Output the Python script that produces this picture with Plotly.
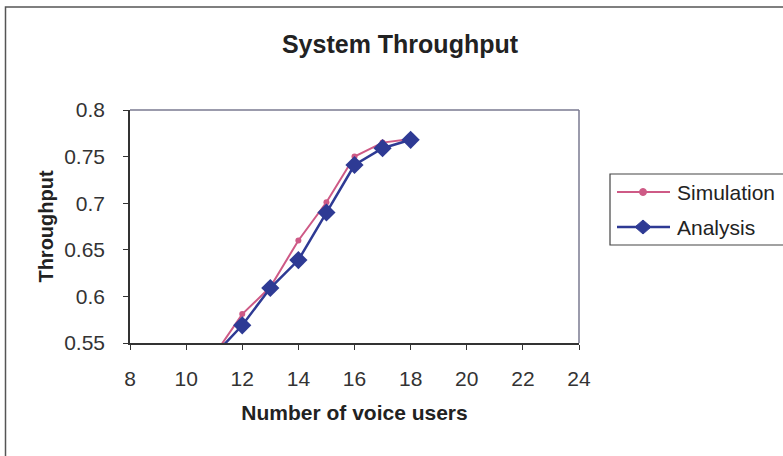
import plotly.graph_objects as go

# Number of voice users on the x axis
users = [11, 12, 13, 14, 15, 16, 17, 18]
# Throughput series
simulation = [0.537, 0.581, 0.610, 0.660, 0.701, 0.750, 0.765, 0.769]
analysis = [0.537, 0.569, 0.609, 0.639, 0.690, 0.741, 0.759, 0.768]
series_names = ["Simulation", "Analysis"]

x_ticks = [8, 10, 12, 14, 16, 18, 20, 22, 24]
y_ticks = [0.55, 0.6, 0.65, 0.7, 0.75, 0.8]
y_tick_text = ["0.55", "0.6", "0.65", "0.7", "0.75", "0.8"]

W, H = 783, 456
L, R, T, B = 130, 204, 110, 113
pw, ph = W - L - R, H - T - B


def px_x(p):
    return (p - L) / pw


def px_y(p):
    return (H - B - p) / ph


FONT = "Liberation Sans, Arial, sans-serif"
SIM_COLOR = "#CE5A86"
ANA_COLOR = "#2E3A94"
TEXT = "#222222"

fig = go.Figure()
fig.add_trace(go.Scatter(
    x=users, y=simulation, name=series_names[0], mode="lines+markers",
    line=dict(color=SIM_COLOR, width=2),
    marker=dict(symbol="circle", size=6, color=SIM_COLOR),
    showlegend=False,
))
fig.add_trace(go.Scatter(
    x=users, y=analysis, name=series_names[1], mode="lines+markers",
    line=dict(color=ANA_COLOR, width=2.5),
    marker=dict(symbol="diamond", size=14, color=ANA_COLOR),
    showlegend=False,
))

# Legend box drawn by hand so the sample lines get Excel-like length
leg_left, leg_top, leg_bottom = 610, 174, 245
leg_rows = [192, 227]
leg_styles = [
    dict(color=SIM_COLOR, width=2, marker="circle"),
    dict(color=ANA_COLOR, width=2.5, marker="diamond"),
]
shapes = [
    # plot area frame (top and right)
    dict(type="line", xref="paper", yref="paper", x0=0, x1=1, y0=1, y1=1,
         line=dict(color="#7A7A90", width=1.5)),
    dict(type="line", xref="paper", yref="paper", x0=1, x1=1, y0=0, y1=1,
         line=dict(color="#7A7A90", width=1.5)),
    # outer chart border
    dict(type="rect", xref="paper", yref="paper",
         x0=px_x(5.5), x1=px_x(800), y0=px_y(7), y1=px_y(470),
         line=dict(color="#555555", width=1.5), layer="below"),
    # legend frame
    dict(type="rect", xref="paper", yref="paper",
         x0=px_x(leg_left), x1=px_x(800), y0=px_y(leg_top), y1=px_y(leg_bottom),
         line=dict(color="#444444", width=1.2), fillcolor="white", layer="below"),
]
annotations = []
for name, row, st in zip(series_names, leg_rows, leg_styles):
    shapes.append(dict(type="line", xref="paper", yref="paper",
                       x0=px_x(617), x1=px_x(670), y0=px_y(row), y1=px_y(row),
                       line=dict(color=st["color"], width=st["width"])))
    if st["marker"] == "circle":
        shapes.append(dict(type="circle", xref="paper", yref="paper",
                           xsizemode="pixel", ysizemode="pixel",
                           xanchor=px_x(643), yanchor=px_y(row),
                           x0=-3.5, x1=3.5, y0=-3.5, y1=3.5,
                           line=dict(color=st["color"], width=1),
                           fillcolor=st["color"]))
    else:
        shapes.append(dict(type="path", xref="paper", yref="paper",
                           xsizemode="pixel", ysizemode="pixel",
                           xanchor=px_x(643), yanchor=px_y(row),
                           path="M-8,0 L0,7 L8,0 L0,-7 Z",
                           line=dict(color=st["color"], width=1),
                           fillcolor=st["color"]))
    annotations.append(dict(text=name, xref="paper", yref="paper",
                            x=px_x(675), y=px_y(row), xanchor="left",
                            yanchor="middle", showarrow=False,
                            font=dict(size=21, color=TEXT)))

fig.update_layout(
    width=W, height=H,
    margin=dict(l=L, r=R, t=T, b=B, autoexpand=False),
    paper_bgcolor="white", plot_bgcolor="white",
    font=dict(family=FONT, color=TEXT, size=20),
    title=dict(text="<b>System Throughput</b>", x=px_x(400), xref="paper",
               xanchor="center", y=1 - 44 / H, yanchor="middle",
               font=dict(size=25, color=TEXT)),
    showlegend=False,
    xaxis=dict(
        range=[8, 24], tickvals=x_ticks, showgrid=False, zeroline=False,
        showline=True, linecolor="#333333", linewidth=1.5,
        ticks="outside", ticklen=5, tickcolor="#333333",
        ticklabelstandoff=11, tickfont=dict(size=21, color="#333333"),
        title=dict(text="<b>Number of voice users</b>", standoff=16,
                   font=dict(size=21, color=TEXT)),
    ),
    yaxis=dict(
        range=[0.55, 0.8], tickvals=y_ticks, ticktext=y_tick_text,
        showgrid=False, zeroline=False,
        showline=True, linecolor="#333333", linewidth=1.5,
        ticks="outside", ticklen=5, tickcolor="#333333",
        ticklabelstandoff=14, tickfont=dict(size=21, color="#333333"),
        title=dict(text="<b>Throughput</b>", standoff=5,
                   font=dict(size=20, color=TEXT)),
    ),
    shapes=shapes,
    annotations=annotations,
)

fig.write_html("out.html")
